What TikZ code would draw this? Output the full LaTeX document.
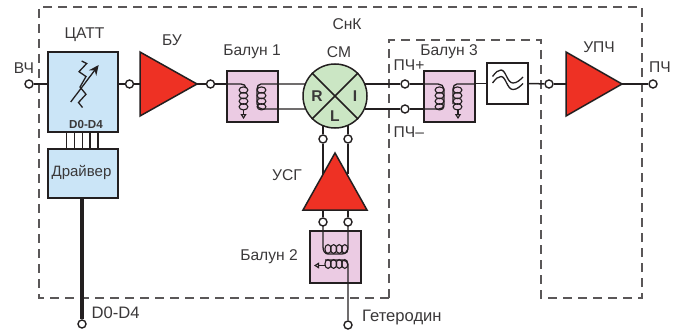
\documentclass[tikz,border=0pt]{standalone}
\usepackage{fontspec}
\setmainfont{Liberation Sans}
\usetikzlibrary{arrows.meta,calc}
\definecolor{ink}{HTML}{231F20}
\definecolor{txt}{HTML}{3A3839}
\definecolor{ampred}{HTML}{EE3124}
\definecolor{pinkbox}{HTML}{EBCBE3}
\definecolor{bluebox}{HTML}{CBE5F7}
\definecolor{greenbox}{HTML}{CBE6C4}
\tikzset{
  wire/.style={draw=ink,line width=1.5pt},
  port/.style={circle,draw=ink,fill=white,line width=1.4pt,minimum size=8pt,inner sep=0pt},
  bx/.style={draw=ink,line width=1.5pt,rectangle,inner sep=0pt},
  amp/.style={draw=ink,fill=ampred,line width=1.5pt,line join=miter},
  lab/.style={text=txt,font=\fontsize{15.6}{15.6}\selectfont,inner sep=0pt},
  labwide/.style={text=txt,font=\fontsize{16.6}{16.6}\selectfont,inner sep=0pt},
  labnarrow/.style={text=txt,font=\fontsize{15}{15}\selectfont,inner sep=0pt},
  letter/.style={text=txt,font=\fontsize{15.6}{15.6}\selectfont\bfseries,inner sep=0pt},
  coil/.style={draw=ink,line width=1.1pt},
  frame/.style={draw=ink!75,line width=1.1pt,dash pattern=on 9pt off 6pt}
}
% vertical / horizontal coils
\newcommand{\vcoil}[2]{\foreach \i in {0,1,2,3}{\draw[coil] (#1,#2+\i*5.6) ellipse[x radius=4.4,y radius=3.1];}}
\newcommand{\hcoil}[2]{\foreach \i in {0,1,2,3}{\draw[coil] (#1+\i*5.6,#2) ellipse[x radius=3.1,y radius=4.4];}}
\begin{document}
\begin{tikzpicture}[x=1pt,y=-1pt]
\useasboundingbox (0,0) rectangle (676,329);
% dashed frames
\draw[frame] (389,298) -- (389,40) -- (541,40) -- (541,298) -- (642,298) -- (642,7) -- (39,7) -- (39,298) -- cycle;
% boxes
\node[bx,fill=bluebox,minimum width=70pt,minimum height=80pt] (att) at (83,92) {};
\node[bx,fill=bluebox,minimum width=70pt,minimum height=49pt] (drv) at (83,173.5) {};
\node[labnarrow] (drvt) at (81.5,172.5) {Драйвер};
\node[bx,fill=pinkbox,minimum width=51pt,minimum height=51pt] (b1) at (252.5,96.5) {};
\node[bx,fill=pinkbox,minimum width=51pt,minimum height=51pt] (b3) at (449.5,96.5) {};
\node[bx,fill=pinkbox,minimum width=51pt,minimum height=52pt] (b2) at (335.5,257) {};
\node[bx,fill=white,minimum width=41pt,minimum height=41pt] (flt) at (507.5,83.5) {};
% ports
\node[port] (pvch) at (29,84) {};
\node[port] (p1) at (129.5,84) {};
\node[port] (p2) at (210.5,84) {};
\node[port] (pp) at (405,84) {};
\node[port] (pm) at (405,109) {};
\node[port] (p3) at (549,84) {};
\node[port] (pout) at (653,84) {};
\node[port] (l1) at (323,139) {};
\node[port] (l2) at (348,139) {};
\node[port] (l3) at (323,222) {};
\node[port] (l4) at (348,222) {};
\node[port] (pd) at (82,324) {};
\node[port] (pg) at (348,325) {};
% amplifier anchors
\coordinate (buin) at (140,84);
\coordinate (buout) at (197,84);
\coordinate (upin) at (566,84);
\coordinate (upout) at (622,84);
\coordinate (usa) at (323,174);
\coordinate (usb) at (348,174);
\coordinate (usc) at (323,210);
\coordinate (usd) at (348,210);
% mixer
\node[circle,draw=ink,fill=greenbox,line width=1.5pt,minimum size=64pt,inner sep=0pt] (mix) at (335,96) {};
\draw[wire] (mix.45) -- (mix.225) (mix.135) -- (mix.315);
\node[letter] at (317,96) {R};
\node[letter] at (355,96) {I};
\node[letter] at (335,116) {L};
% wires
\draw[wire] (pvch) -- (pvch -| att.west);
\draw[wire] (p1 -| att.east) -- (p1);
\draw[wire] (p1) -- (buin);
\draw[wire] (buout) -- (p2);
\draw[wire] (p2) -- (p2 -| b1.west);
\draw[wire] (364.7,84) -- (pp);
\draw[wire] (364.7,109) -- (pm);
\draw[wire] (pp) -- (pp -| b3.west);
\draw[wire] (pm) -- (pm -| b3.west);
\draw[wire] (flt.east) -- (p3);
\draw[wire] (p3) -- (upin);
\draw[wire] (upout) -- (pout);
\draw[wire] (b3.east |- flt.west) -- (flt.west);
\draw[wire] (l1) -- ($(mix.center)+(-12,29.6)$);
\draw[wire] (l2) -- ($(mix.center)+(13,29.3)$);
\draw[wire] (l1) -- (usa);
\draw[wire] (l2) -- (usb);
\draw[wire] (usc) -- (l3);
\draw[wire] (usd) -- (l4);
\draw[draw=ink,line width=4pt] (drv.south -| pd) -- (pd.north);
\foreach \x in {66.7,74.6,82.4,90.2,98}{\draw[wire] (\x,132) -- (\x,149);}
% amplifiers
\draw[amp] (140,52) -- (197,84) -- (140,116) -- cycle;
\draw[amp] (566,52) -- (622,84) -- (566,116) -- cycle;
\draw[amp] (335,153) -- (367,210) -- (303,210) -- cycle;
% balun 1
\draw[wire,line width=1.3pt] (227,84) -- (241,84) to[out=0,in=90] (246,88);
\vcoil{243.5}{90}
\draw[coil,-{Triangle[open,length=5pt,width=6pt]}] (243.5,110) -- (243.5,119);
\vcoil{261.5}{90}
\draw[wire,line width=1.3pt] (305.3,84) -- (261,84) to[out=180,in=90] (257,89) -- (257,104) to[out=-90,in=180] (262,109) -- (305.3,109);
% balun 3
\vcoil{439.5}{90}
\vcoil{457.5}{90}
\draw[wire,line width=1.3pt] (424,84) -- (438,84) to[out=0,in=90] (444,89) -- (444,105) to[out=-90,in=0] (439,109) -- (424,109);
\draw[wire,line width=1.3pt] (475,84) -- (457,84) to[out=180,in=90] (453,89) -- (453,104);
\draw[coil,-{Triangle[open,length=5pt,width=6pt]}] (458,109) -- (458,119);
% balun 2
\hcoil{328}{249}
\draw[wire,line width=1.3pt] (323,226) -- (323,247) to[out=-90,in=180] (328,254) -- (342,254) to[out=0,in=-90] (348,247) -- (348,226);
\hcoil{328}{264}
\draw[coil,-{Triangle[open,length=5pt,width=6pt]}] (325,265.5) -- (314,265.5);
\draw[wire,line width=1.3pt] (325,260) -- (343,260) to[out=0,in=90] (348,265) -- (pg.north);
% filter symbol
\foreach \d in {0,6.5}{
\draw[coil,line width=1.3pt] (492.5,76.5+\d) .. controls (496,72+\d) and (498,70+\d) .. (501,70+\d) .. controls (506,70+\d) and (507,83+\d) .. (513,83+\d) .. controls (517,83+\d) and (520,80+\d) .. (523,77+\d);}
% attenuator symbol
\draw[draw=ink,line width=1.3pt,line join=miter] (81.7,61) -- (86.7,63.5) -- (79,71.7) -- (86,76.5) -- (80,87) -- (86,94.3) -- (78.5,102.5) -- (82.5,107.5);
\draw[draw=ink,line width=1.3pt,-{Stealth[length=10pt,width=9pt]}] (70.7,102) -- (98.7,65);
% labels
\node[lab] at (84.5,34.5) {ЦАТТ};
\node[lab] at (172,40.5) {БУ};
\node[lab] at (252,51.5) {Балун 1};
\node[lab] at (347,24.5) {СнК};
\node[lab] at (339,52) {СМ};
\node[lab] at (449,51.5) {Балун 3};
\node[lab] at (599,47.5) {УПЧ};
\node[lab] at (24,68) {ВЧ};
\node[lab] at (660,67.5) {ПЧ};
\node[lab,anchor=west] at (393.5,65) {ПЧ+};
\node[lab,anchor=west] at (393.5,132) {ПЧ–};
\node[lab] at (287,175) {УСГ};
\node[lab] at (269,257) {Балун 2};
\node[labwide,anchor=west] at (362,318) {Гетеродин};
\node[labwide,anchor=west] at (91.5,312.5) {D0-D4};
\node[text=txt,font=\fontsize{11.6}{11.6}\selectfont\bfseries,inner sep=0pt] at (86,124.5) {D0-D4};
\end{tikzpicture}
\end{document}
